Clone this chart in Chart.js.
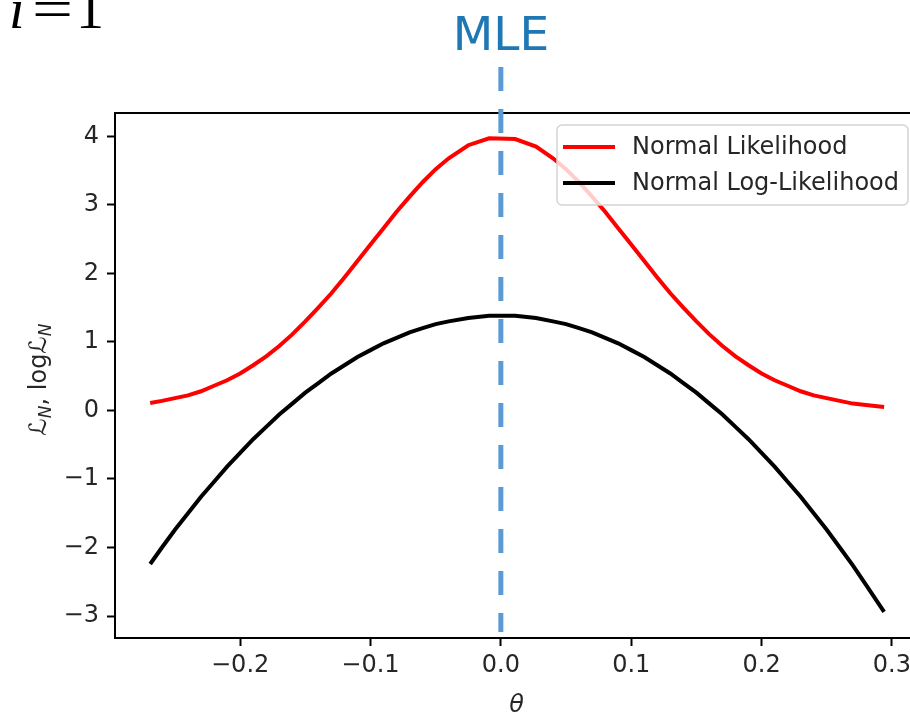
<!DOCTYPE html>
<html>
<head>
<meta charset="utf-8">
<script src="https://cdn.jsdelivr.net/npm/chart.js@4.4.0/dist/chart.umd.min.js"></script>
<style>
  html, body { margin: 0; padding: 0; background: #fff; overflow: hidden; }
  #wrap { position: absolute; left: 0; top: 0; width: 930px; height: 713px; }
</style>
</head>
<body>
<div id="wrap"><canvas id="chart"></canvas></div>
<script>
// 1. Data
const theta = [-0.269, -0.26, -0.25, -0.24, -0.23, -0.22, -0.21, -0.20, -0.19, -0.18,
               -0.17, -0.16, -0.15, -0.14, -0.13, -0.12, -0.11, -0.10, -0.09, -0.08,
               -0.07, -0.06, -0.05, -0.04, -0.025, -0.009, 0.011, 0.027, 0.04, 0.05,
               0.06, 0.07, 0.08, 0.09, 0.10, 0.11, 0.12, 0.13, 0.14, 0.15,
               0.16, 0.17, 0.18, 0.19, 0.20, 0.21, 0.22, 0.23, 0.24, 0.25,
               0.26, 0.27, 0.28, 0.294];
const likelihood = [0.11, 0.14, 0.18, 0.22, 0.28, 0.36, 0.44, 0.54, 0.66, 0.79,
                    0.94, 1.11, 1.30, 1.50, 1.71, 1.94, 2.18, 2.42, 2.66, 2.90,
                    3.12, 3.33, 3.52, 3.68, 3.87, 3.97, 3.96, 3.85, 3.68, 3.52,
                    3.33, 3.12, 2.90, 2.66, 2.42, 2.18, 1.94, 1.71, 1.50, 1.30,
                    1.11, 0.94, 0.79, 0.66, 0.54, 0.44, 0.36, 0.28, 0.22, 0.18,
                    0.14, 0.10, 0.08, 0.05];
const logLikelihood = [-2.24, -2.00, -1.74, -1.50, -1.26, -1.04, -0.82, -0.62, -0.42, -0.24,
                       -0.06, 0.10, 0.26, 0.40, 0.54, 0.66, 0.78, 0.88, 0.98, 1.06,
                       1.14, 1.20, 1.26, 1.30, 1.35, 1.38, 1.38, 1.35, 1.30, 1.26,
                       1.20, 1.14, 1.06, 0.98, 0.88, 0.78, 0.66, 0.54, 0.40, 0.26,
                       0.10, -0.06, -0.24, -0.42, -0.62, -0.82, -1.04, -1.26, -1.50, -1.74,
                       -2.00, -2.26, -2.54, -2.94];
const seriesLabels = ["Normal Likelihood", "Normal Log-Likelihood"];
const seriesColors = ["#ff0000", "#000000"];
const xTicks = [-0.2, -0.1, 0.0, 0.1, 0.2, 0.3];
const yTicks = [-3, -2, -1, 0, 1, 2, 3, 4];
const mleTheta = 0.0;

const FONT = "DejaVu Sans";
const TXT = "#262626";
const FS = 24;

function minus(s) { return s.replace("-", "\u2212"); }

// 2. Extra drawing: spines, MLE line, legend, titles
const extras = {
    id: "extras",
    afterDatasetsDraw(chart) {
        const ctx = chart.ctx;
        const a = chart.chartArea;
        const xs = chart.scales.x;

        // top and right spines
        ctx.save();
        ctx.strokeStyle = "#000";
        ctx.lineWidth = 2;
        ctx.beginPath();
        ctx.moveTo(a.left - 1, a.top);
        ctx.lineTo(a.right, a.top);
        ctx.lineTo(a.right, a.bottom);
        ctx.stroke();
        ctx.restore();

        // dashed MLE line
        const mx = xs.getPixelForValue(mleTheta);
        ctx.save();
        ctx.strokeStyle = "#5b9bd5";
        ctx.lineWidth = 5;
        ctx.setLineDash([24, 18]);
        ctx.beginPath();
        ctx.moveTo(mx, a.top - 46);
        ctx.lineTo(mx, a.bottom - 6);
        ctx.stroke();
        ctx.restore();

        // MLE text
        ctx.save();
        ctx.fillStyle = "#1f77b4";
        ctx.font = "47px '" + FONT + "'";
        ctx.textAlign = "center";
        ctx.textBaseline = "alphabetic";
        ctx.fillText("MLE", mx, 50);
        ctx.restore();

        // legend
        const bx = a.right - 361, by = a.top + 12, bw = 351, bh = 80, r = 5;
        ctx.save();
        ctx.beginPath();
        ctx.moveTo(bx + r, by);
        ctx.arcTo(bx + bw, by, bx + bw, by + bh, r);
        ctx.arcTo(bx + bw, by + bh, bx, by + bh, r);
        ctx.arcTo(bx, by + bh, bx, by, r);
        ctx.arcTo(bx, by, bx + bw, by, r);
        ctx.closePath();
        ctx.fillStyle = "rgba(255,255,255,0.8)";
        ctx.fill();
        ctx.strokeStyle = "#d4d4d4";
        ctx.lineWidth = 1.5;
        ctx.stroke();
        ctx.font = FS + "px '" + FONT + "'";
        ctx.textBaseline = "middle";
        ctx.textAlign = "left";
        seriesLabels.forEach((lab, i) => {
            const ly = by + 22 + i * 36;
            ctx.strokeStyle = seriesColors[i];
            ctx.lineWidth = 4;
            ctx.beginPath();
            ctx.moveTo(bx + 6, ly);
            ctx.lineTo(bx + 58, ly);
            ctx.stroke();
            ctx.fillStyle = TXT;
            ctx.fillText(lab, bx + 75, ly + 1);
        });
        ctx.restore();

        // y axis title: L_N, log L_N
        ctx.save();
        const cy = (a.top + a.bottom) / 2 + 4;
        ctx.translate(46, cy);
        ctx.rotate(-Math.PI / 2);
        ctx.fillStyle = TXT;
        ctx.textBaseline = "alphabetic";
        const big = FS + "px '" + FONT + "'";
        const small = "italic 17px '" + FONT + "'";
        const parts = [
            ["\u2112", big, 0], ["N", small, 5], [", log", big, 0],
            ["\u2112", big, 0], ["N", small, 5]
        ];
        let total = 0;
        parts.forEach(p => { ctx.font = p[1]; total += ctx.measureText(p[0]).width; });
        let px = -total / 2;
        parts.forEach(p => {
            ctx.font = p[1];
            ctx.fillText(p[0], px, p[2]);
            px += ctx.measureText(p[0]).width;
        });
        ctx.restore();

        // x axis title, cut by the bottom edge
        ctx.save();
        ctx.fillStyle = TXT;
        ctx.font = "italic " + FS + "px '" + FONT + "'";
        ctx.textAlign = "center";
        ctx.textBaseline = "alphabetic";
        ctx.fillText("\u03b8", (a.left + a.right) / 2, 712);
        ctx.restore();

        // i=1 text cut at the top
        ctx.save();
        ctx.fillStyle = "#000";
        ctx.textBaseline = "alphabetic";
        ctx.font = "italic 56px 'Liberation Serif'";
        ctx.fillText("i", 9, 28);
        ctx.font = "56px 'Liberation Serif'";
        ctx.save();
        ctx.translate(32, 28);
        ctx.scale(1.3, 1);
        ctx.fillText("=", 0, 0);
        ctx.restore();
        ctx.fillText("1", 76, 28);
        ctx.restore();
    }
};

// 3. Chart
const ctx = document.getElementById("chart").getContext("2d");
const chart = new Chart(ctx, {
    type: "line",
    data: {
        datasets: [
            {
                label: seriesLabels[0],
                data: theta.map((t, i) => ({ x: t, y: likelihood[i] })),
                borderColor: seriesColors[0],
                borderWidth: 4,
                pointRadius: 0,
                tension: 0,
                fill: false
            },
            {
                label: seriesLabels[1],
                data: theta.map((t, i) => ({ x: t, y: logLikelihood[i] })),
                borderColor: seriesColors[1],
                borderWidth: 4,
                pointRadius: 0,
                tension: 0,
                fill: false
            }
        ]
    },
    options: {
        responsive: true,
        maintainAspectRatio: false,
        animation: false,
        devicePixelRatio: 1,
        layout: { padding: { left: 0, top: 113, right: 12, bottom: 0 } },
        plugins: { legend: { display: false }, tooltip: { enabled: false } },
        scales: {
            x: {
                type: "linear",
                min: -0.296,
                max: 0.32,
                afterBuildTicks: s => { s.ticks = xTicks.map(v => ({ value: v })); },
                afterFit: s => { s.height = 75; },
                ticks: {
                    callback: v => minus(v.toFixed(1)),
                    font: { family: FONT, size: FS },
                    color: TXT,
                    padding: 5,
                    maxRotation: 0
                },
                grid: { drawOnChartArea: false, drawTicks: true, tickLength: 8, tickWidth: 2, tickColor: "#000" },
                border: { display: true, color: "#000", width: 2 }
            },
            y: {
                type: "linear",
                min: -3.32,
                max: 4.34,
                afterBuildTicks: s => { s.ticks = yTicks.map(v => ({ value: v })); },
                afterFit: s => { s.width = 115; },
                ticks: {
                    callback: v => minus(String(v)),
                    font: { family: FONT, size: FS },
                    color: TXT,
                    padding: 8
                },
                grid: { drawOnChartArea: false, drawTicks: true, tickLength: 8, tickWidth: 2, tickColor: "#000" },
                border: { display: true, color: "#000", width: 2 }
            }
        }
    },
    plugins: [extras]
});
</script>
</body>
</html>
